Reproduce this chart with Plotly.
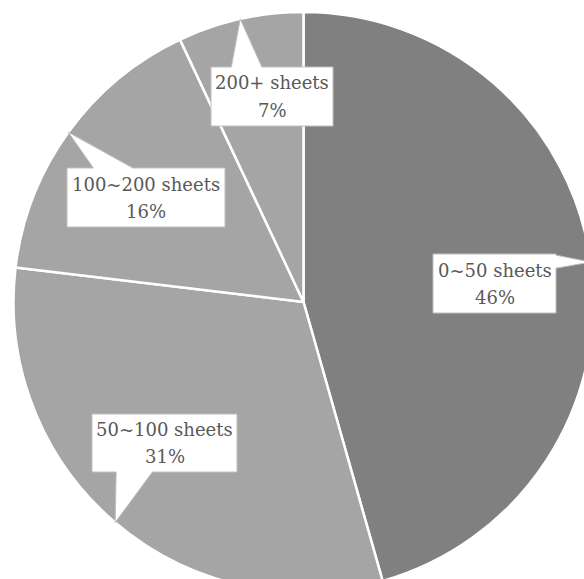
import math
import plotly.graph_objects as go

# ---- data ----
categories = ["0~50 sheets", "50~100 sheets", "100~200 sheets", "200+ sheets"]
shares = [45.6, 31.3, 16.1, 7.0]
slice_colors = ["#808080", "#a5a5a5", "#a5a5a5", "#a5a5a5"]

# ---- layout geometry (pixels, top-left origin) ----
W, H = 600, 600
CX, CY, R = 303.5, 302.0, 290.0
# label boxes: (x0, y0, x1, y1), side of pointer, base fractions along that side
boxes = [
    ((433, 254, 556, 313), "right", (0.02, 0.24)),
    ((92, 414, 237, 472), "bottom", (1 / 6, 5 / 12)),
    ((67, 168, 225, 227), "top", (1 / 6, 5 / 12)),
    ((211, 67, 333, 126), "top", (1 / 6, 5 / 12)),
]
FONT = "DejaVu Serif"
FSIZE = 18
LINE_GAP = 27


def px(x, y):
    return x / W, 1 - y / H


fig = go.Figure(
    go.Pie(
        labels=categories,
        values=shares,
        sort=False,
        direction="clockwise",
        rotation=0,
        marker=dict(colors=slice_colors, line=dict(color="white", width=2.5)),
        textinfo="none",
        hoverinfo="skip",
        showlegend=False,
        domain=dict(x=[(CX - R) / W, (CX + R) / W], y=[1 - (CY + R) / H, 1 - (CY - R) / H]),
    )
)

total = sum(shares)
cum = 0.0
shapes = []
annotations = []
for cat, v, (box, side, (f0, f1)) in zip(categories, shares, boxes):
    mid = 2 * math.pi * (cum + v / 2) / total
    cum += v
    tx, ty = CX + R * math.sin(mid), CY - R * math.cos(mid)
    x0, y0, x1, y1 = box
    bw, bh = x1 - x0, y1 - y0
    pts = [(x0, y0)]
    if side == "top":
        pts += [(x0 + f0 * bw, y0), (tx, ty), (x0 + f1 * bw, y0)]
    pts += [(x1, y0)]
    if side == "right":
        pts += [(x1, y0 + f0 * bh), (tx, ty), (x1, y0 + f1 * bh)]
    pts += [(x1, y1)]
    if side == "bottom":
        pts += [(x0 + f1 * bw, y1), (tx, ty), (x0 + f0 * bw, y1)]
    pts += [(x0, y1)]
    path = "M " + " L ".join("%.5f,%.5f" % px(a, b) for a, b in pts) + " Z"
    shapes.append(dict(type="path", xref="paper", yref="paper", path=path,
                       fillcolor="white", line=dict(color="#bfbfbf", width=1), layer="above"))
    pct = "%d%%" % round(v / total * 100)
    mx, my = (x0 + x1) / 2, (y0 + y1) / 2
    for txt, dy in ((cat, -LINE_GAP / 2), (pct, LINE_GAP / 2)):
        ax, ay = px(mx, my + dy)
        annotations.append(dict(x=ax, y=ay, xref="paper", yref="paper", showarrow=False,
                                xanchor="center", yanchor="middle", align="center",
                                text=txt,
                                font=dict(family=FONT, size=FSIZE, color="#595959")))

fig.update_layout(
    width=W, height=H,
    margin=dict(l=0, r=0, t=0, b=0),
    paper_bgcolor="white",
    plot_bgcolor="white",
    font=dict(family=FONT),
    shapes=shapes,
    annotations=annotations,
)

fig.write_html("out.html")
